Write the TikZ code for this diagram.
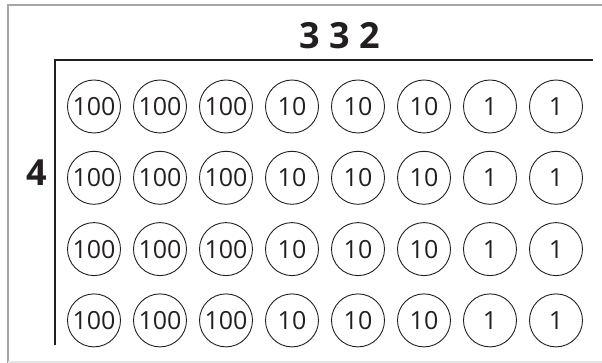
\documentclass[tikz,border=0pt]{standalone}
\usepackage{fontspec}
\setmainfont{Open Sans}
\definecolor{ink}{HTML}{231F20}
\begin{document}
\begin{tikzpicture}[x=1pt, y=-1pt,
    coin/.style={draw=ink, circle, minimum size=53pt, inner sep=0pt, line width=0.9pt,
                 text=ink, font=\fontsize{25}{25}\selectfont},
    factor/.style={text=ink, inner sep=0pt, font=\bfseries\fontsize{36}{36}\selectfont}]
    % 1. Khung ngoài (nét xám)
    \useasboundingbox (0,0) rectangle (602,363);
    \draw[gray!70, line width=2pt] (8,363) -- (8,5) -- (602,5);
    \draw[gray!20, line width=1.5pt] (8,362) -- (602,362);

    % 2. Hai đường kẻ của phép nhân
    \draw[ink, line width=2.2pt] (55,345) -- (55,60) -- (593,60);

    % 3. Các thừa số
    \node[factor] (top) at (340,36) {3 3 2};
    \node[factor] (left) at (36.5,172.5) {4};

    % 4. Các đồng xu 100, 10, 1
    \foreach \r in {0,...,3} {
        \foreach \c/\v in {0/100,1/100,2/100,3/10,4/10,5/10,6/1,7/1}
            \node[coin] (c\r\c) at ({94+66*\c},{106.5+71.3*\r}) {\v};
    }
\end{tikzpicture}
\end{document}
